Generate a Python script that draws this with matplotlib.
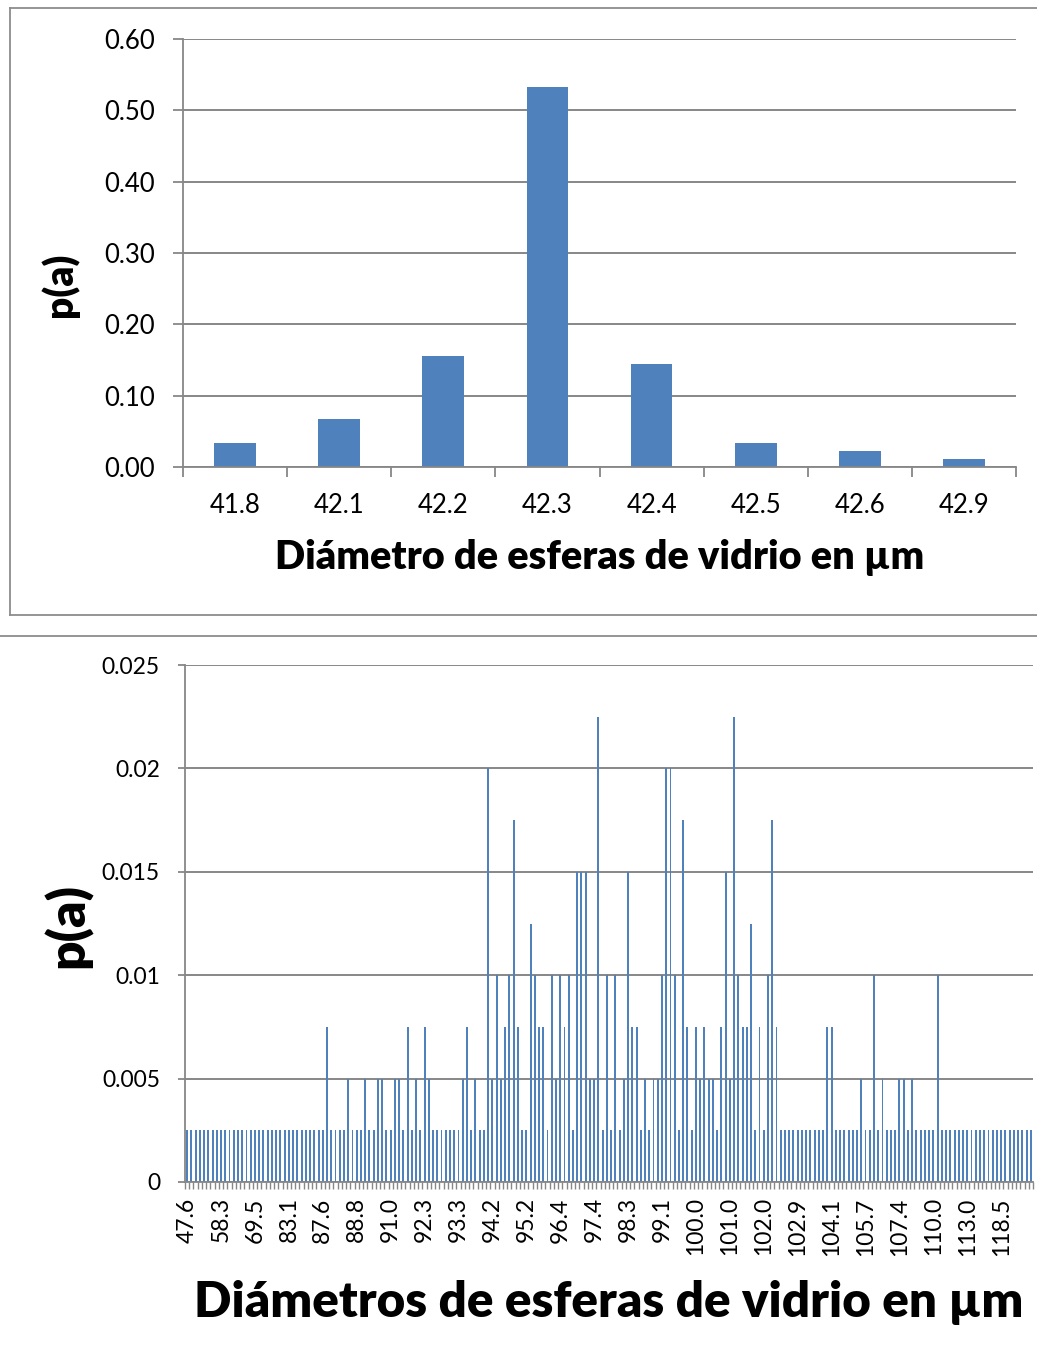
import numpy as np
import matplotlib
matplotlib.use("Agg")
import matplotlib.pyplot as plt
from matplotlib.lines import Line2D
from matplotlib.ticker import FixedLocator, NullFormatter

plt.rcParams['font.family'] = ['Lato', 'DejaVu Sans']

BAR_COLOR = '#4F81BD'
GRID_COLOR = '#878787'
W, H = 1037, 1361

# Muestra 1: esferas de ~42 um (90 esferas medidas)
diam_1 = ['41.8', '42.1', '42.2', '42.3', '42.4', '42.5', '42.6', '42.9']
conteo_1 = [3, 6, 14, 48, 13, 3, 2, 1]

# Muestra 2: 200 clases de diametro (400 esferas medidas)
conteo_2 = [
    1, 1, 1, 1, 1, 1, 1, 1, 1, 1, 1, 1, 1, 1, 1, 1, 1, 1, 1, 1,
    1, 1, 1, 1, 1, 1, 1, 1, 1, 1, 1, 1, 1, 3, 1, 1, 1, 1, 2, 1,
    1, 1, 2, 1, 1, 2, 2, 1, 1, 2, 2, 1, 3, 1, 2, 1, 3, 2, 1, 1,
    1, 1, 1, 1, 1, 2, 3, 1, 2, 1, 1, 8, 2, 4, 2, 3, 4, 7, 3, 1,
    1, 5, 4, 3, 3, 1, 4, 2, 4, 3, 4, 1, 6, 6, 6, 2, 2, 9, 1, 4,
    1, 4, 1, 2, 6, 3, 3, 1, 2, 1, 2, 2, 4, 8, 8, 4, 1, 7, 3, 1,
    3, 2, 3, 2, 2, 1, 3, 6, 2, 9, 4, 3, 3, 5, 1, 3, 1, 4, 7, 3,
    1, 1, 1, 1, 1, 1, 1, 1, 1, 1, 1, 3, 3, 1, 1, 1, 1, 1, 1, 2,
    1, 1, 4, 1, 2, 1, 1, 1, 2, 2, 1, 2, 1, 1, 1, 1, 1, 4, 1, 1,
    1, 1, 1, 1, 1, 1, 1, 1, 1, 1, 1, 1, 1, 1, 1, 1, 1, 1, 1, 1,
]
# etiquetas del eje x, una cada 8 clases
etiquetas_2 = ['47.6', '58.3', '69.5', '83.1', '87.6', '88.8', '91.0', '92.3',
               '93.3', '94.2', '95.2', '96.4', '97.4', '98.3', '99.1', '100.0',
               '101.0', '102.0', '102.9', '104.1', '105.7', '107.4', '110.0',
               '113.0', '118.5']
paso_etiquetas = 8

p_1 = np.array(conteo_1) / sum(conteo_1)
p_2 = np.array(conteo_2) / sum(conteo_2)


def px_axes(left, top, right, bottom):
    # pixel box -> figure fraction [l, b, w, h]
    return [left / W, 1 - bottom / H, (right - left) / W, (bottom - top) / H]


def style_axes(ax):
    for s in ['top', 'right']:
        ax.spines[s].set_visible(False)
    for s in ['left', 'bottom']:
        ax.spines[s].set_color(GRID_COLOR)
        ax.spines[s].set_linewidth(1.3)
    ax.set_axisbelow(True)
    ax.yaxis.grid(True, color=GRID_COLOR, linewidth=1.4)
    ax.xaxis.grid(False)


fig = plt.figure(figsize=(W / 100, H / 100), dpi=100)

# ---- grafico superior ----
ax1 = fig.add_axes(px_axes(183, 39, 1016, 467))
x1 = np.arange(len(diam_1))
ax1.bar(x1, p_1, width=0.4, color=BAR_COLOR)
ax1.set_xlim(-0.5, len(diam_1) - 0.5)
ax1.set_ylim(0, 0.6)
ax1.set_yticks(np.arange(0, 0.61, 0.1))
ax1.set_yticklabels([f'{v:.2f}' for v in np.arange(0, 0.61, 0.1)])
ax1.set_xticks(x1)
ax1.set_xticklabels(diam_1)
ax1.xaxis.set_minor_locator(FixedLocator(np.arange(-0.5, len(diam_1), 1)))
ax1.xaxis.set_minor_formatter(NullFormatter())
style_axes(ax1)
ax1.tick_params(axis='x', which='major', length=0, pad=19, labelsize=18.5)
ax1.tick_params(axis='x', which='minor', length=7.2, width=1.3, color=GRID_COLOR)
ax1.tick_params(axis='y', length=7.2, width=1.3, color=GRID_COLOR, pad=13, labelsize=18.5)
ax1.set_xlabel('Diámetro de esferas de vidrio en µm', fontsize=28.5, fontweight='heavy')
ax1.xaxis.set_label_coords(0.5, -0.2126)
ax1.xaxis.label.set_va('center')
ax1.set_ylabel('p(a)', fontsize=28, fontweight='heavy')
ax1.yaxis.set_label_coords(-0.1477, 0.425)
ax1.yaxis.label.set_va('center')

# ---- grafico inferior ----
ax2 = fig.add_axes(px_axes(185, 665, 1033, 1182))
x2 = np.arange(len(conteo_2))
ax2.bar(x2, p_2, width=0.45, color=BAR_COLOR, linewidth=0)
ax2.set_xlim(-0.5, len(conteo_2) - 0.5)
ax2.set_ylim(0, 0.025)
yt2 = [0, 0.005, 0.01, 0.015, 0.02, 0.025]
ax2.set_yticks(yt2)
ax2.set_yticklabels(['0', '0.005', '0.01', '0.015', '0.02', '0.025'])
pos_etiq = x2[::paso_etiquetas][:len(etiquetas_2)]
ax2.set_xticks(pos_etiq)
ax2.set_xticklabels(etiquetas_2, rotation=90)
ax2.xaxis.set_minor_locator(FixedLocator(np.arange(-0.5, len(conteo_2), 1)))
ax2.xaxis.set_minor_formatter(NullFormatter())
style_axes(ax2)
ax2.tick_params(axis='x', which='major', length=0, pad=11, labelsize=16.5)
ax2.tick_params(axis='x', which='minor', length=5, width=1.0, color=GRID_COLOR)
ax2.tick_params(axis='y', length=5, width=1.3, color=GRID_COLOR, pad=13, labelsize=16.5)
ax2.set_xlabel('Diámetros de esferas de vidrio en µm', fontsize=35.5, fontweight='heavy')
ax2.xaxis.set_label_coords(0.5, -0.234)
ax2.xaxis.label.set_va('center')
ax2.set_ylabel('p(a)', fontsize=37, fontweight='heavy')
ax2.yaxis.set_label_coords(-0.138, 0.497)
ax2.yaxis.label.set_va('center')

# marco del grafico superior y linea separadora
frame_kw = dict(color='#8C8C8C', linewidth=1.3, transform=fig.transFigure)
fig.add_artist(Line2D([9.5 / W, 9.5 / W], [1 - 7.5 / H, 1 - 614.5 / H], **frame_kw))
fig.add_artist(Line2D([9.5 / W, 1], [1 - 7.5 / H, 1 - 7.5 / H], **frame_kw))
fig.add_artist(Line2D([9.5 / W, 1], [1 - 614.5 / H, 1 - 614.5 / H], **frame_kw))
fig.add_artist(Line2D([0, 1], [1 - 636 / H, 1 - 636 / H], **frame_kw))

fig.savefig('out.png', dpi=100)
